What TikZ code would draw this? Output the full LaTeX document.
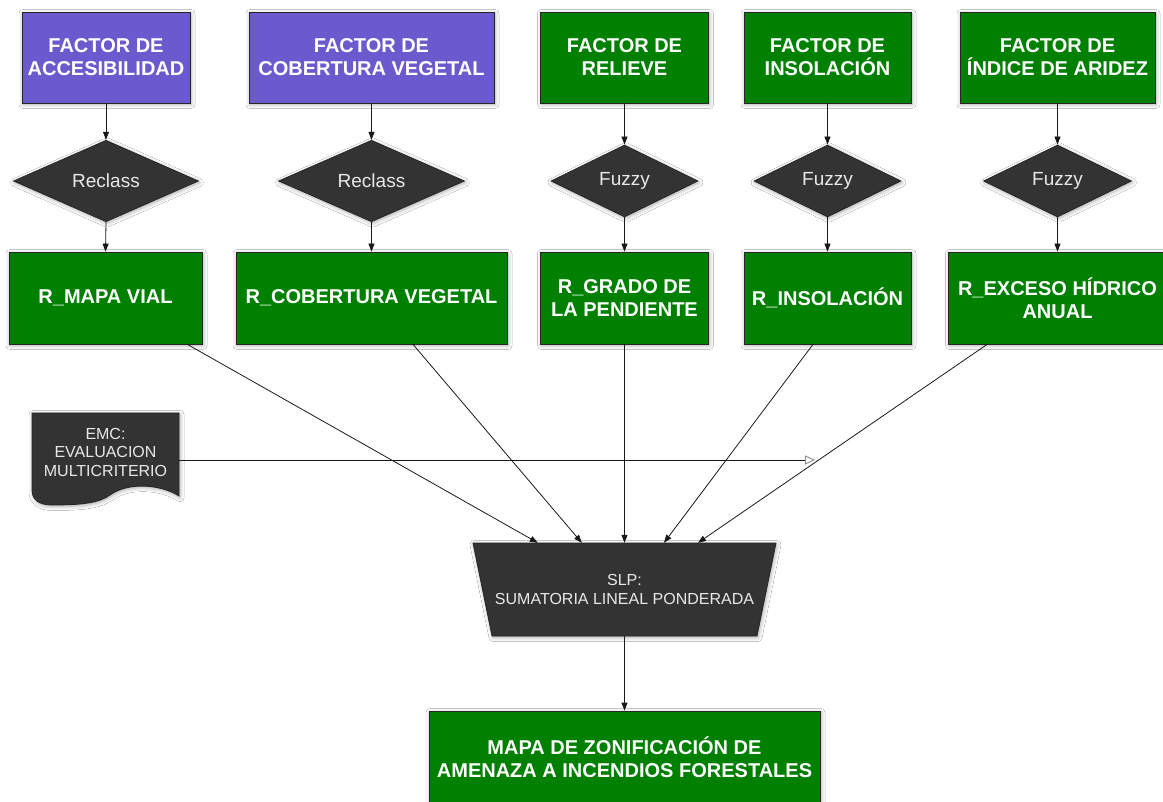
\documentclass[tikz,border=0pt]{standalone}
\usepackage{fontspec}
\setmainfont{Liberation Sans}
\usetikzlibrary{arrows.meta,calc,shapes.geometric,shadows.blur,backgrounds}

\definecolor{fpurple}{RGB}{106,90,205}
\definecolor{fgreen}{RGB}{0,128,0}
\definecolor{fdark}{RGB}{51,51,51}
\definecolor{ftext}{RGB}{232,232,232}

\begin{document}
\begin{tikzpicture}[x=1pt,y=-1pt,
 shad/.style={blur shadow={shadow xshift=1pt, shadow yshift=-1.5pt, shadow blur radius=4pt, shadow opacity=35}},
 box/.style={draw=black!85, line width=0.8pt, text=white, align=center, inner sep=0pt,
   font=\fontsize{20}{23}\selectfont\bfseries, shad},
 pbox/.style={box, fill=fpurple},
 gbox/.style={box, fill=fgreen},
 dia/.style={diamond, draw=black!85, line width=0.8pt, fill=fdark, text=ftext, inner sep=0pt,
   minimum height=72pt, font=\fontsize{19}{22}\selectfont, shad},
 dtext/.style={text=ftext, align=center, inner sep=0pt, font=\fontsize{16}{18.5}\selectfont},
 arr/.style={draw=black!90, line width=0.8pt, -{Triangle[length=8pt,width=6pt]}},
]
\useasboundingbox (0,0) rectangle (1163,802);

% EMC document shape
\path[fill=fdark, draw=black!85, line width=0.8pt, shad]
  (32,413) -- (179,413) -- (179,496)
  .. controls (160,484) and (128,482) .. (110,495)
  .. controls (99,503) and (82,505) .. (52,505)
  .. controls (38,505) and (32,499) .. (32,490) -- cycle;
\node[minimum width=147pt, minimum height=94pt, inner sep=0pt] (emc) at (105.5,460) {};
\node[dtext] (emct) at (105.5,452) {EMC:\\EVALUACION\\MULTICRITERIO};

% SLP trapezoid
\path[fill=fdark, draw=black!85, line width=0.8pt, shad]
  (473,543) -- (776,543) -- (757,636) -- (492,636) -- cycle;
\node[dtext, minimum width=303pt, minimum height=93pt] (slp) at (624.5,589.5) {SLP:\\SUMATORIA LINEAL PONDERADA};

% top factor boxes
\node[pbox, minimum width=168pt, minimum height=91pt] (f1) at (106,57.5) {FACTOR DE\\ACCESIBILIDAD};
\node[pbox, minimum width=245pt, minimum height=91pt] (f2) at (371.5,57.5) {FACTOR DE\\COBERTURA VEGETAL};
\node[gbox, minimum width=168pt, minimum height=91pt] (f3) at (624.5,57.5) {FACTOR DE\\RELIEVE};
\node[gbox, minimum width=167pt, minimum height=91pt] (f4) at (827.5,57.5) {FACTOR DE\\INSOLACIÓN};
\node[gbox, minimum width=195pt, minimum height=91pt] (f5) at (1057.5,57.5) {FACTOR DE\\ÍNDICE DE ARIDEZ};

% diamonds
\node[dia, minimum width=185pt] (d1) at (106,181) {Reclass};
\node[dia, minimum width=186pt] (d2) at (371.5,181) {Reclass};
\node[dia, minimum width=147pt] (d3) at (624.5,181) {Fuzzy};
\node[dia, minimum width=147pt] (d4) at (827.5,181) {Fuzzy};
\node[dia, minimum width=148pt] (d5) at (1057.5,181) {Fuzzy};

% result boxes
\node[gbox, minimum width=193pt, minimum height=92pt] (r1) at (105.5,298) {R\_MAPA VIAL};
\node[gbox, minimum width=271pt, minimum height=92pt] (r2) at (371.5,298) {R\_COBERTURA VEGETAL};
\node[gbox, minimum width=168pt, minimum height=92pt] (r3) at (624.5,298) {R\_GRADO DE\\LA PENDIENTE};
\node[gbox, minimum width=167pt, minimum height=92pt] (r4) at (827.5,298) {R\_INSOLACIÓN};
\node[gbox, minimum width=218pt, minimum height=92pt] (r5) at (1057.5,298) {R\_EXCESO HÍDRICO\\ANUAL};

% output
\node[gbox, minimum width=391pt, minimum height=92pt] (out) at (624.5,757) {MAPA DE ZONIFICACIÓN DE\\AMENAZA A INCENDIOS FORESTALES};

% connectors
\foreach \i in {1,...,5} {
  \draw[arr] (f\i.south) -- (d\i.north);
  \draw[arr] (d\i.south) -- (r\i.north);
}
\coordinate (emcend) at (815,460);
\draw[line width=0.9pt, draw=black!90, -{Triangle[length=10pt,width=9pt,color=black!45,fill=white]}] (emc.east) -- (emcend);
\draw[arr] ($(r1.south east)+(-15,0)$) -- ($(slp.north west)+(65,0)$);
\draw[arr] ($(r2.south)+(41.5,0)$) -- ($(slp.north west)+(109,0)$);
\draw[arr] (r3.south) -- (slp.north);
\draw[arr] ($(r4.south)+(-14.5,0)$) -- ($(slp.north)+(39.5,0)$);
\draw[arr] ($(r5.south west)+(39,0)$) -- ($(slp.north)+(73.5,0)$);
\draw[arr] (slp.south) -- (out.north);

\begin{scope}[on background layer]
\fill[white] (0,0) rectangle (1163,802);
\end{scope}
\end{tikzpicture}
\end{document}
